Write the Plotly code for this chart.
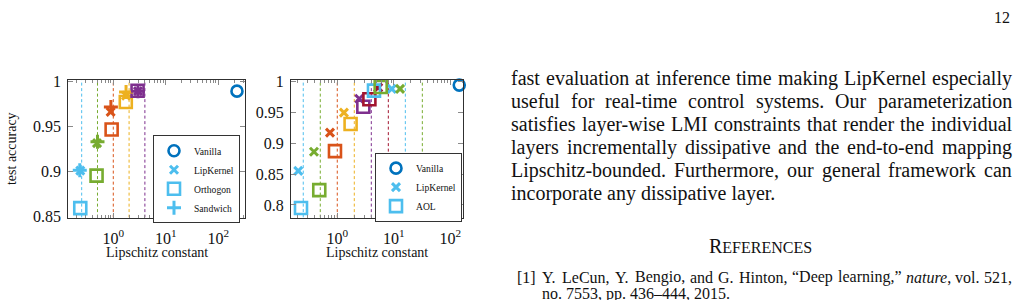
import plotly.graph_objects as go

W, H = 1018, 300
CY, GR, OR, YE, PU, DR, BL = '#4DBEEE', '#77AC30', '#D95319', '#EDB120', '#7E2F8E', '#A2142F', '#0072BD'
SERIF = 'Liberation Serif'

# ---------------- data: left panel ----------------
a_bounds = [0.25, 0.5, 1, 2, 4]
a_colors = [CY, GR, OR, YE, PU]
a_van_x = [227]
a_van_y = [0.989]
a_lip_x = [0.235, 0.49, 0.89, 1.75, 2.95]
a_lip_y = [0.901, 0.9315, 0.966, 0.984, 0.989]
a_orth_x = [0.235, 0.48, 0.93, 1.73, 2.9]
a_orth_y = [0.8595, 0.8955, 0.9465, 0.977, 0.9895]
a_sand_x = [0.23, 0.5, 0.9, 1.75, 2.95]
a_sand_y = [0.9015, 0.933, 0.9715, 0.988, 0.989]
a_yticks = [0.85, 0.9, 0.95, 1.0]
a_yticklabels = ['0.85', '0.9', '0.95', '1']

# ---------------- data: right panel ----------------
b_bounds = [0.25, 0.5, 1, 2, 4, 8, 16, 32]
b_colors = [CY, GR, OR, YE, PU, DR, CY, GR]
b_van_x = [144]
b_van_y = [0.994]
b_lip_x = [0.204, 0.387, 0.743, 1.31, 2.45, 5.3, 9.2, 12.9]
b_lip_y = [0.855, 0.886, 0.917, 0.9495, 0.972, 0.990, 0.988, 0.988]
b_aol_x = [0.228, 0.48, 0.91, 1.72, 2.89, 3.7, 4.46, 5.86]
b_aol_y = [0.795, 0.824, 0.887, 0.931, 0.959, 0.971, 0.985, 0.991]
b_yticks = [0.8, 0.85, 0.9, 0.95, 1.0]
b_yticklabels = ['0.8', '0.85', '0.9', '0.95', '1']

x_ticks = [1, 10, 100]
x_ticklabels = ['10<sup>0</sup>', '10<sup>1</sup>', '10<sup>2</sup>']
x_minor = [m * 10 ** k for k in range(-1, 3) for m in range(2, 10)]

a_yrange = [0.849, 1.0015]
b_yrange = [0.7794, 1.0025]

# page text
body_lines = [
    "fast evaluation at inference time making LipKernel especially",
    "useful for real-time control systems. Our parameterization",
    "satisfies layer-wise LMI constraints that render the individual",
    "layers incrementally dissipative and the end-to-end mapping",
    "Lipschitz-bounded. Furthermore, our general framework can",
    "incorporate any dissipative layer.",
]
ref1_words = ["Y.", "LeCun,", "Y.", "Bengio,", "and", "G.", "Hinton,", "“Deep", "learning,”",
              "<i>nature</i>,", "vol.", "521,"]
ref1_cont = "no. 7553, pp. 436–444, 2015."

fig = go.Figure()

def px_x(v):
    return v / W

def px_y(v):
    return 1 - v / H

# dashed bound lines
for xa, ya, bounds, cols, yr in [('x', 'y', a_bounds, a_colors, a_yrange),
                                 ('x2', 'y2', b_bounds, b_colors, b_yrange)]:
    for b, c in zip(bounds, cols):
        fig.add_trace(go.Scatter(x=[b, b], y=yr, mode='lines', xaxis=xa, yaxis=ya,
                                 line=dict(color=c, width=1, dash='3px,2.5px'),
                                 showlegend=False, hoverinfo='skip'))

def mk(sym, size, color, lw):
    return dict(symbol=sym, size=size, color=color, line=dict(width=lw, color=color))

# left panel markers
fig.add_trace(go.Scatter(x=a_van_x, y=a_van_y, mode='markers', name='Vanilla', legend='legend',
                         marker=mk('circle-open', 11, BL, 2.6), cliponaxis=False))
fig.add_trace(go.Scatter(x=a_lip_x, y=a_lip_y, mode='markers', name='LipKernel', legend='legend',
                         marker=mk('x-thin', 8, a_colors, 3), cliponaxis=False))
fig.add_trace(go.Scatter(x=a_orth_x, y=a_orth_y, mode='markers', name='Orthogon', legend='legend',
                         marker=mk('square-open', 12, a_colors, 2.6), cliponaxis=False))
fig.add_trace(go.Scatter(x=a_sand_x, y=a_sand_y, mode='markers', name='Sandwich', legend='legend',
                         marker=mk('cross-thin', 10, a_colors, 3), cliponaxis=False))

# right panel markers
fig.add_trace(go.Scatter(x=b_van_x, y=b_van_y, mode='markers', name='Vanilla', legend='legend2',
                         xaxis='x2', yaxis='y2', marker=mk('circle-open', 11, BL, 2.6), cliponaxis=False))
fig.add_trace(go.Scatter(x=b_lip_x, y=b_lip_y, mode='markers', name='LipKernel', legend='legend2',
                         xaxis='x2', yaxis='y2', marker=mk('x-thin', 8, b_colors, 3), cliponaxis=False))
fig.add_trace(go.Scatter(x=b_aol_x, y=b_aol_y, mode='markers', name='AOL', legend='legend2',
                         xaxis='x2', yaxis='y2', marker=mk('square-open', 12, b_colors, 2.6), cliponaxis=False))

TICKC = '#8a8a8a'
LINEC = '#303030'

def xax(domain, rng, anchor):
    return dict(type='log', domain=domain, range=rng, anchor=anchor,
                showline=True, linecolor=LINEC, linewidth=1, mirror='ticks',
                ticks='inside', ticklen=5, tickwidth=1, tickcolor=TICKC,
                tickmode='array', tickvals=x_ticks, ticktext=x_ticklabels,
                tickfont=dict(family=SERIF, size=16, color='#111'),
                ticklabelstandoff=6,
                minor=dict(ticks='inside', ticklen=3, tickwidth=1, tickcolor=TICKC,
                           tickmode='array', tickvals=x_minor, showgrid=False),
                showgrid=False, zeroline=False, fixedrange=True)

def yax(domain, rng, anchor, tv, tt):
    return dict(domain=domain, range=rng, anchor=anchor,
                showline=True, linecolor=LINEC, linewidth=1, mirror='ticks',
                ticks='inside', ticklen=5, tickwidth=1, tickcolor=TICKC,
                tickmode='array', tickvals=tv, ticktext=tt,
                tickfont=dict(family=SERIF, size=16, color='#111'),
                ticklabelstandoff=3,
                showgrid=False, zeroline=False, fixedrange=True)

ydom = [1 - 221.7 / H, 1 - 76.7 / H]

# ---------------- text annotations ----------------
TW = {' ': 250, '!': 333, '"': 408, "'": 333, '(': 333, ')': 333, ',': 250, '-': 333, '.': 250,
      '/': 278, ':': 278, ';': 278, '[': 333, ']': 333, '“': 444, '”': 444, '–': 500}
for d in '0123456789':
    TW[d] = 500
TW.update(dict(A=722, B=667, C=667, D=722, E=611, F=556, G=722, H=722, I=333, J=389, K=722, L=611,
               M=889, N=722, O=722, P=556, Q=722, R=667, S=556, T=611, U=722, V=722, W=944, X=722,
               Y=722, Z=611))
TW.update(dict(a=444, b=500, c=444, d=500, e=444, f=333, g=500, h=500, i=278, j=278, k=500, l=278,
               m=778, n=500, o=500, p=500, q=500, r=333, s=389, t=278, u=500, v=500, w=722, x=500,
               y=500, z=444))

def strip(s):
    return s.replace('<i>', '').replace('</i>', '')

def wwidth(word, size):
    return sum(TW.get(ch, 500) for ch in strip(word)) / 1000.0 * size

annots = []

def add_text(txt, x, y, size, xanchor='left', angle=0, color='#111'):
    annots.append(dict(text=txt, x=px_x(x), y=px_y(y), xref='paper', yref='paper',
                       xanchor=xanchor, yanchor='middle', showarrow=False, borderpad=0,
                       textangle=angle, font=dict(family=SERIF, size=size, color=color)))

def justify(words, x0, x1, y, size):
    widths = [wwidth(w, size) for w in words]
    gap = (x1 - x0 - sum(widths)) / (len(words) - 1)
    x = x0
    for w, wd in zip(words, widths):
        add_text(w, x, y, size)
        x += wd + gap

X0, X1 = 510, 1011
line_y = [75.0, 99.2, 123.4, 147.6, 171.8, 196.0]
for i, (ln, yy) in enumerate(zip(body_lines, line_y)):
    if i < len(body_lines) - 1:
        justify(ln.split(' '), X0, X1, yy, 20)
    else:
        add_text(ln, X0, yy, 20)

add_text('12', 1011, 11.5, 16, xanchor='right')
add_text('R<span style="font-size:16px">EFERENCES</span>', 760.5, 252, 20, xanchor='center')
add_text('[1]', 516, 284.5, 16)
justify(ref1_words, 541, 1011, 284.5, 16)
add_text(ref1_cont, 541, 302.5, 16)

# axis titles
add_text('Lipschitz constant', (68.3 + 245) / 2, 258, 14, xanchor='center')
add_text('Lipschitz constant', (291 + 463.3) / 2, 258, 14, xanchor='center')
add_text('test accuracy', 11.5, 149, 14, xanchor='center', angle=-90)

legend_common = dict(bgcolor='white', bordercolor='#333', borderwidth=1,
                     font=dict(family=SERIF, size=9.6, color='#111'),
                     itemwidth=30, xanchor='left', yanchor='top', tracegroupgap=0,
                     itemclick=False, itemdoubleclick=False)

fig.update_layout(
    width=W, height=H, autosize=False,
    margin=dict(l=0, r=0, t=0, b=0),
    paper_bgcolor='white', plot_bgcolor='white',
    xaxis=xax([68.3 / W, 245 / W], [-0.857, 2.509], 'y'),
    yaxis=yax(ydom, a_yrange, 'x', a_yticks, a_yticklabels),
    xaxis2=xax([291 / W, 463.3 / W], [-0.819, 2.23], 'y2'),
    yaxis2=yax(ydom, b_yrange, 'x2', b_yticks, b_yticklabels),
    legend=dict(x=153 / W, y=1 - 135 / H, **legend_common),
    legend2=dict(x=375 / W, y=1 - 153.3 / H, **legend_common),
    annotations=annots,
    showlegend=True,
)

fig.write_html('out.html')
